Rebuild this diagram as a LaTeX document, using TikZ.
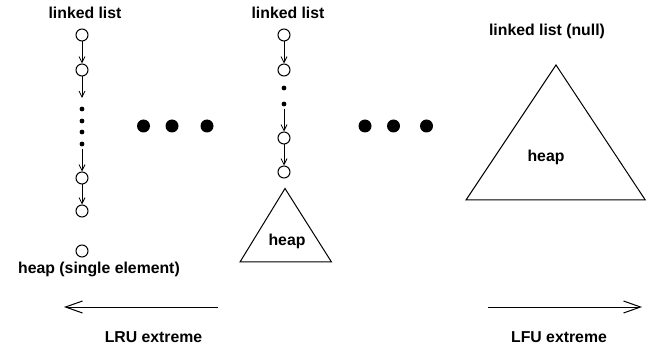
\documentclass[tikz,border=0pt]{standalone}
\usepackage{fontspec}
\setmainfont{Liberation Sans}
\usetikzlibrary{arrows.meta}
\begin{document}
\begin{tikzpicture}[x=1pt,y=-1pt,
  lbl/.style={font=\fontsize{15.8}{18}\selectfont\bfseries, inner sep=0pt, anchor=base},
  elem/.style={circle, draw, line width=1pt, minimum size=12pt, inner sep=0pt},
  sdot/.style={circle, fill, minimum size=4.8pt, inner sep=0pt},
  bdot/.style={circle, fill, minimum size=13pt, inner sep=0pt},
  link/.style={line width=0.8pt, -{Straight Barb[length=6pt,width=6pt]}},
  tri/.style={line width=1pt, line join=miter},
  bigarrow/.style={line width=1pt, -{Straight Barb[length=17pt,width=12pt]}}
]
\useasboundingbox (0,0) rectangle (646,350);

% ---- left column ----
\node[lbl] (t1) at (85,19) {linked list};
\node[elem] (a1) at (82,35) {};
\node[elem] (a2) at (82,70) {};
\coordinate (a2e) at (82,98);
\node[sdot] (ad1) at (82,109) {};
\node[sdot] (ad2) at (82,121) {};
\node[sdot] (ad3) at (82,132) {};
\node[sdot] (ad4) at (82,144) {};
\coordinate (a3s) at (82,149);
\node[elem] (a3) at (82,178) {};
\node[elem] (a4) at (82,211) {};
\node[elem] (a5) at (82,251) {};
\node[lbl] (h1) at (99,273) {heap (single element)};
\draw[link] (a1) -- (a2);
\draw[link] (a2) -- (a2e);
\draw[link] (a3s) -- (a3);
\draw[link] (a3) -- (a4);

% ---- big dots left ----
\node[bdot] (bd1) at (143.5,126) {};
\node[bdot] (bd2) at (172,126) {};
\node[bdot] (bd3) at (207,126) {};

% ---- middle column ----
\node[lbl] (t2) at (288,19) {linked list};
\node[elem] (b1) at (284,35) {};
\node[elem] (b2) at (284,70) {};
\node[sdot] (bd1s) at (284,88) {};
\node[sdot] (bd2s) at (284,104) {};
\coordinate (b3s) at (284,109);
\node[elem] (b3) at (284,138) {};
\node[elem] (b4) at (284,172) {};
\draw[link] (b1) -- (b2);
\draw[link] (b3s) -- (b3);
\draw[link] (b3) -- (b4);
\coordinate (m1) at (285,188.5);
\coordinate (m2) at (240,262);
\coordinate (m3) at (331.5,262);
\draw[tri] (m1) -- (m2) -- (m3) -- cycle;
\node[lbl] (h2) at (287,245.5) {heap};

% ---- big dots right ----
\node[bdot] (cd1) at (365,126) {};
\node[bdot] (cd2) at (393.5,126) {};
\node[bdot] (cd3) at (426.5,126) {};

% ---- right ----
\node[lbl] (t3) at (547,36) {linked list (null)};
\coordinate (r1) at (556,65);
\coordinate (r2) at (466,200);
\coordinate (r3) at (645.3,200);
\draw[tri] (r1) -- (r2) -- (r3) -- cycle;
\node[lbl] (h3) at (546,162) {heap};

% ---- bottom arrows ----
\coordinate (la) at (218,307);
\coordinate (lb) at (64,307);
\draw[bigarrow] (la) -- (lb);
\node[lbl] (lru) at (153.5,342) {LRU extreme};
\coordinate (ra) at (488,307);
\coordinate (rb) at (642,307);
\draw[bigarrow] (ra) -- (rb);
\node[lbl] (lfu) at (559,342) {LFU extreme};
\end{tikzpicture}
\end{document}
